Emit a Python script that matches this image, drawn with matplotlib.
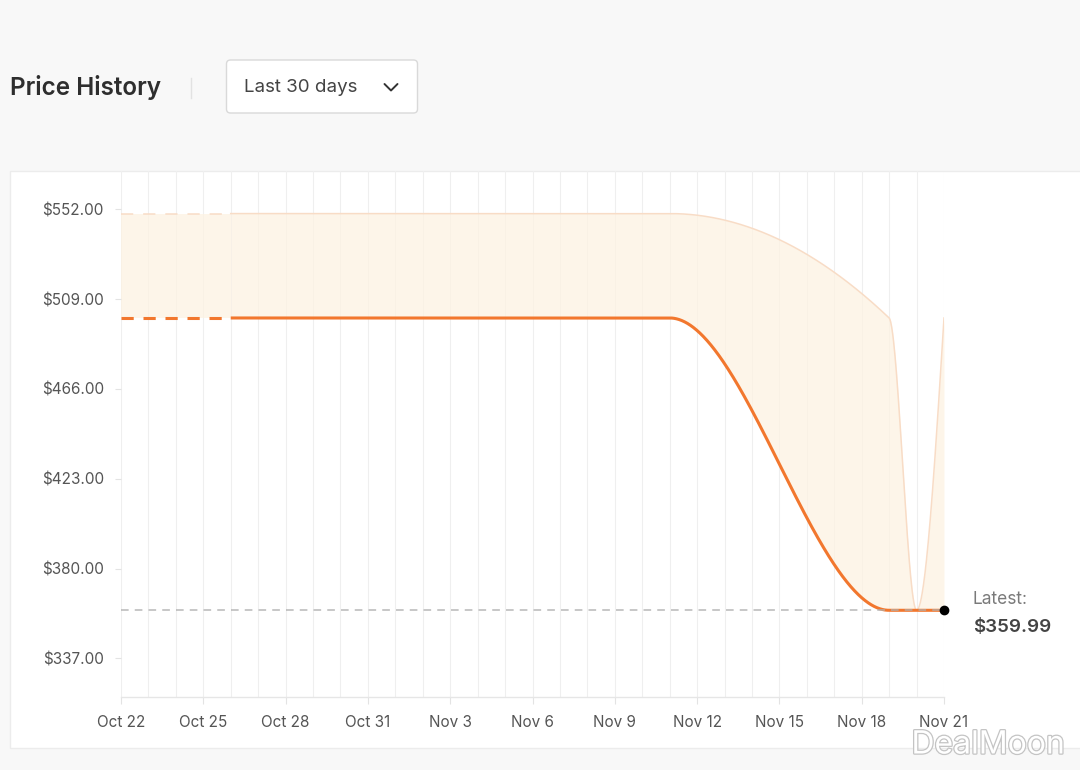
import numpy as np
import pandas as pd
import matplotlib
matplotlib.use("Agg")
import matplotlib.pyplot as plt
from matplotlib.patches import Rectangle, FancyBboxPatch
from matplotlib.lines import Line2D
import matplotlib.patheffects as pe

plt.rcParams['font.family'] = ['Inter', 'DejaVu Sans']

# ---------------- data ----------------
start_date = "2024-10-22"
end_date = "2024-11-21"
price_dates = ["2024-10-26", "2024-11-11", "2024-11-19", "2024-11-21"]
price_values = [499.99, 499.99, 359.99, 359.99]
high_dates = ["2024-10-26", "2024-11-11", "2024-11-19", "2024-11-20", "2024-11-21"]
high_values = [549.99, 549.99, 499.99, 359.99, 499.99]
latest_price = 359.99
y_ticks = [337.00, 380.00, 423.00, 466.00, 509.00, 552.00]
x_tick_labels = ["Oct 22", "Oct 25", "Oct 28", "Oct 31", "Nov 3", "Nov 6",
                 "Nov 9", "Nov 12", "Nov 15", "Nov 18", "Nov 21"]

t0 = pd.Timestamp(start_date)
def day_offsets(dates):
    return np.array([(pd.Timestamp(d) - t0).days for d in dates], dtype=float)

px = day_offsets(price_dates)
py = np.array(price_values)
hx = day_offsets(high_dates)
hy = np.array(high_values)
x_end = (pd.Timestamp(end_date) - t0).days


def monotone_x(xs, ys, xq):
    """d3 curveMonotoneX style cubic Hermite rendering."""
    n = len(xs)
    h = np.diff(xs)
    s = np.diff(ys) / h
    m = np.zeros(n)
    for i in range(1, n - 1):
        s0, s1 = s[i - 1], s[i]
        p = (s0 * h[i] + s1 * h[i - 1]) / (h[i - 1] + h[i])
        m[i] = (np.sign(s0) + np.sign(s1)) * min(abs(s0), abs(s1), 0.5 * abs(p))
    m[0] = (3 * s[0] - m[1]) / 2 if n > 2 else s[0]
    m[-1] = (3 * s[-1] - m[-2]) / 2 if n > 2 else s[-1]
    out = np.empty_like(xq)
    for j, x in enumerate(xq):
        if x <= xs[0]:
            out[j] = ys[0]; continue
        if x >= xs[-1]:
            out[j] = ys[-1]; continue
        i = np.searchsorted(xs, x) - 1
        hh = h[i]
        t = (x - xs[i]) / hh
        h00 = 2 * t**3 - 3 * t**2 + 1
        h10 = t**3 - 2 * t**2 + t
        h01 = -2 * t**3 + 3 * t**2
        h11 = t**3 - t**2
        out[j] = h00 * ys[i] + h10 * hh * m[i] + h01 * ys[i + 1] + h11 * hh * m[i + 1]
    return out

xg = np.linspace(px[0], x_end, 1500)
price_curve = monotone_x(px, py, xg)
high_curve = monotone_x(hx, hy, xg)

# ---------------- figure ----------------
W, H = 1080, 770
fig = plt.figure(figsize=(W / 100, H / 100), dpi=100)
fig.patch.set_facecolor('#f8f8f8')

def fx(x):
    return x / W
def fy(y):
    return 1 - y / H

# card
fig.patches.append(Rectangle((fx(10), fy(748)), fx(1080) - fx(10) + 0.01, fy(171) - fy(748),
                             transform=fig.transFigure, facecolor='white',
                             edgecolor='#ececec', linewidth=1, zorder=-10))

# header
fig.text(fx(10), fy(87), "Price History", fontsize=17.5, fontweight='semibold',
         color='#2e2e2e', va='center', ha='left')
fig.lines.append(Line2D([fx(191), fx(191)], [fy(78), fy(98)], transform=fig.transFigure,
                        color='#e2e2e2', linewidth=1))
fig.patches.append(FancyBboxPatch((2.265, (H - 113) / 100), 1.91, 0.53,
                                  boxstyle="round,pad=0,rounding_size=0.04",
                                  transform=fig.dpi_scale_trans, facecolor='white',
                                  edgecolor='#d9d9d9', linewidth=1, zorder=-5))
fig.text(fx(244), fy(87), "Last 30 days", fontsize=13.5, color='#444444',
         va='center', ha='left')
fig.lines.append(Line2D([3.845, 3.91, 3.975], [(H - 84) / 100, (H - 90.5) / 100, (H - 84) / 100],
                        transform=fig.dpi_scale_trans, color='#333333', linewidth=1.4,
                        solid_capstyle='round', solid_joinstyle='round'))

# ---------------- axes ----------------
ax_left, ax_right, ax_top, ax_bottom = 121, 944, 171, 696.5
ax = fig.add_axes([fx(ax_left), fy(ax_bottom), fx(ax_right) - fx(ax_left), fy(ax_top) - fy(ax_bottom)])
ax.set_zorder(1)
ax.set_facecolor('none')
ppd = 2.088          # pixels per dollar
y337 = 658.3         # pixel row of the $337 tick
ax.set_ylim(337 - (ax_bottom - y337) / ppd, 337 + (y337 - ax_top) / ppd)
ax.set_xlim(0, x_end)

for sp in ['top', 'right', 'left']:
    ax.spines[sp].set_visible(False)
ax.spines['bottom'].set_color('#e6e6e6')
ax.spines['bottom'].set_linewidth(1)

# daily vertical grid
for d in range(0, x_end + 1):
    ax.axvline(d, color='#efefef', linewidth=0.8, zorder=0.5)

# fill between high and price
ax.fill_between([0, px[0]], [hy[0], hy[0]], [py[0], py[0]], color='#fdf2e2', alpha=0.75,
                linewidth=0, zorder=1)
ax.fill_between(xg, high_curve, price_curve, color='#fdf2e2', alpha=0.75, linewidth=0, zorder=1)

# high line
ax.plot([0, px[0]], [hy[0], hy[0]], color='#f8dcc6', linewidth=1.1, dashes=(8, 6.5), zorder=2)
ax.plot(xg, high_curve, color='#f8dcc6', linewidth=1.1, zorder=2)

# price line
orange = '#f2772e'
ax.plot([0, px[0]], [py[0], py[0]], color=orange, linewidth=2.2, dashes=(4, 3.2), zorder=3)
ax.plot(xg, price_curve, color=orange, linewidth=2.2, zorder=3, solid_capstyle='butt')

# latest dashed line
ax.axhline(latest_price, color='#b0b0b0', linewidth=1.1, dashes=(5, 4), alpha=0.9, zorder=4)
ax.plot([x_end], [latest_price], 'o', color='black', markersize=6, zorder=5, clip_on=False)

# ticks
ax.set_yticks(y_ticks)
ax.set_yticklabels([f"${v:.2f}" for v in y_ticks])
ax.set_xticks(np.arange(0, x_end + 1, 3))
ax.set_xticklabels(x_tick_labels)
ax.tick_params(axis='y', length=4.3, width=0.8, color='#e3e3e3', pad=8,
               labelsize=11, labelcolor='#555555')
ax.tick_params(axis='x', length=5, width=0.8, color='#e3e3e3', pad=8.5,
               labelsize=11, labelcolor='#555555')

# latest annotation
fig.text(fx(973), fy(599), "Latest:", fontsize=12.5, color='#7a7a7a', va='center', ha='left')
fig.text(fx(973), fy(628), "$359.99", fontsize=13.5, fontweight='semibold', color='#444444',
         va='center', ha='left')

# watermark
fig.text(fx(988), fy(745), "DealMoon", fontsize=23, color='white', va='center', ha='center',
         path_effects=[pe.withStroke(linewidth=1.8, foreground='#c4c4c4')])

fig.savefig("out.png", dpi=100, facecolor=fig.get_facecolor())
